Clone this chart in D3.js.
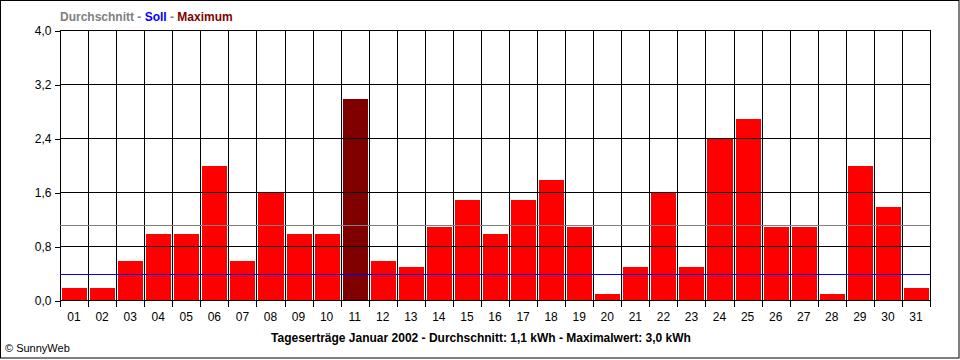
<!DOCTYPE html>
<html><head><meta charset="utf-8">
<script src="https://cdn.jsdelivr.net/npm/d3@7"></script>
<style>body{margin:0;background:#fff}svg{display:block}text{font-family:"Liberation Sans",Arial,sans-serif}</style>
</head><body><svg id="c" width="960" height="360"></svg>
<script>
const days = ["01","02","03","04","05","06","07","08","09","10","11","12","13","14","15","16","17","18","19","20","21","22","23","24","25","26","27","28","29","30","31"];
const values = [0.2,0.2,0.6,1.0,1.0,2.0,0.6,1.6,1.0,1.0,3.0,0.6,0.5,1.1,1.5,1.0,1.5,1.8,1.1,0.1,0.5,1.6,0.5,2.4,2.7,1.1,1.1,0.1,2.0,1.4,0.2];
const yTicks = [0,0.8,1.6,2.4,3.2,4.0];
const average = 1.11;
const target = 0.385;
const title = "Tageserträge Januar 2002 - Durchschnitt: 1,1 kWh - Maximalwert: 3,0 kWh";

const svg = d3.select("#c");
const L=60,R=930,T=30,B=300;
const x = d3.scaleBand().domain(days).range([L,R]).padding(0);
const y = d3.scaleLinear().domain([0,4]).range([B,T]);
const fmt = v => d3.format(".1f")(v).replace(".",",");
const maxValue = d3.max(values);

// outer border
svg.append("rect").attr("x",0.5).attr("y",0.5).attr("width",958.5).attr("height",357.5).attr("fill","none").attr("stroke","#000");

// bars
const bw = x.bandwidth();
svg.append("g").selectAll("rect").data(days).join("rect")
  .attr("x",(d)=>Math.round(x(d))+2)
  .attr("width",(d)=>Math.round(x(d)+bw)-Math.round(x(d))-3)
  .attr("y",(d,i)=>Math.round(y(values[i]))+1)
  .attr("height",(d,i)=>B-Math.round(y(values[i]))-1)
  .attr("fill",(d,i)=>values[i]===maxValue?"#800000":"#ff0000");

// grid
const g = svg.append("g").attr("stroke","#000").attr("stroke-width",1).attr("shape-rendering","crispEdges");
yTicks.forEach(v=>{g.append("line").attr("x1",L).attr("x2",R).attr("y1",Math.round(y(v))+0.5).attr("y2",Math.round(y(v))+0.5);});
days.concat(["end"]).forEach((d,i)=>{
  const xx = d==="end"?R:Math.round(x(d));
  g.append("line").attr("x1",xx+0.5).attr("x2",xx+0.5).attr("y1",T).attr("y2",B+7);
});

// reference lines
svg.append("line").attr("x1",L).attr("x2",R).attr("y1",Math.round(y(average))+0.5).attr("y2",Math.round(y(average))+0.5).attr("stroke","#808080").attr("shape-rendering","crispEdges");
svg.append("line").attr("x1",L).attr("x2",R).attr("y1",Math.round(y(target))+0.5).attr("y2",Math.round(y(target))+0.5).attr("stroke","#0000ff").attr("shape-rendering","crispEdges");

// y axis
const ya = svg.append("g").attr("transform",`translate(${L+0.5},0.5)`)
  .call(d3.axisLeft(y).tickValues(yTicks).tickFormat(fmt).tickSize(6).tickPadding(3));
ya.select(".domain").remove();
ya.selectAll("line").attr("stroke","#000").attr("shape-rendering","crispEdges");
ya.selectAll("text").attr("font-size",12).attr("fill","#000").attr("font-family","Liberation Sans, Arial, sans-serif");

// x labels
svg.append("g").selectAll("text").data(days).join("text")
  .attr("x",d=>x(d)+bw/2).attr("y",321).attr("text-anchor","middle").attr("font-size",12).text(d=>d);

// title
svg.append("text").attr("x",481).attr("y",342).attr("text-anchor","middle").attr("font-size",12).attr("font-weight","bold").text(title);
svg.append("text").attr("x",5).attr("y",352).attr("font-size",11).text("© SunnyWeb");

// legend
const lg = svg.append("text").attr("x",60).attr("y",21).attr("font-size",12).attr("font-weight","bold");
lg.append("tspan").attr("fill","#808080").text("Durchschnitt - ");
lg.append("tspan").attr("fill","#0000ff").text("Soll");
lg.append("tspan").attr("fill","#808080").text(" - ");
lg.append("tspan").attr("fill","#800000").text("Maximum");
</script></body></html>
